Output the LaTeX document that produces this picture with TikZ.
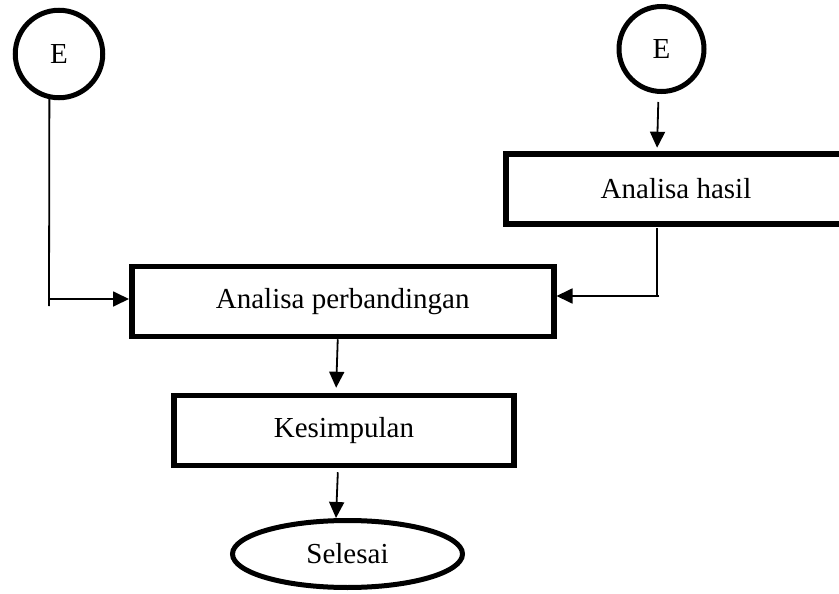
\documentclass[tikz,border=0pt]{standalone}
\usepackage{fontspec}
\setmainfont{Liberation Serif}
\usetikzlibrary{arrows.meta,shapes.geometric}

\begin{document}
\begin{tikzpicture}[x=1pt,y=-1pt,
    every node/.style={font=\fontsize{29}{34}\selectfont},
    prosesbox/.style={draw,line width=5.5pt,minimum width=#1,minimum height=70pt,inner sep=0pt},
    konektor/.style={draw,circle,line width=5pt,minimum size=#1,inner sep=0pt},
    terminal/.style={draw,ellipse,line width=5pt,minimum width=230pt,minimum height=67pt,inner sep=0pt},
    garis/.style={line width=1.8pt},
    panah/.style={garis,-{Triangle[length=16pt,width=15pt]}}]
  \clip (0,0) rectangle (839,594);
  % simbol dan proses
  \node[konektor=87.5pt] (eleft) at (59,54) {E};
  \node[konektor=85pt] (eright) at (661.5,49) {E};
  \node[prosesbox=340pt] (hasil) at (676,189) {Analisa hasil};
  \node[prosesbox=422pt] (banding) at (342.75,301.5) {Analisa perbandingan};
  \node[prosesbox=340pt] (simpulan) at (344,430.5) {Kesimpulan};
  \node[terminal] (selesai) at (347.5,554) {Selesai};
  % titik belok
  \coordinate (kiri) at (50,299);
  \coordinate (kiribawah) at (49,306);
  \coordinate (kanan) at (657,296);
  % alur
  \draw[garis] (eleft.258) -- (kiribawah);
  \draw[panah] (kiri) -- (kiri -| banding.west);
  \draw[panah,shorten <=8pt,shorten >=3.5pt] ([xshift=-3pt]eright.south) -- ([xshift=-19pt]hasil.north);
  \draw[garis,shorten <=1.5pt] ([xshift=-19pt]hasil.south) -- (kanan);
  \draw[panah] ([xshift=2pt]kanan) -- (kanan -| banding.east);
  \draw[panah,shorten >=5pt] ([xshift=-5pt]banding.south) -- ([xshift=-8pt]simpulan.north);
  \draw[panah,shorten <=4pt] ([xshift=-6pt]simpulan.south) -- ([xshift=-11.5pt]selesai.north);
\end{tikzpicture}
\end{document}
